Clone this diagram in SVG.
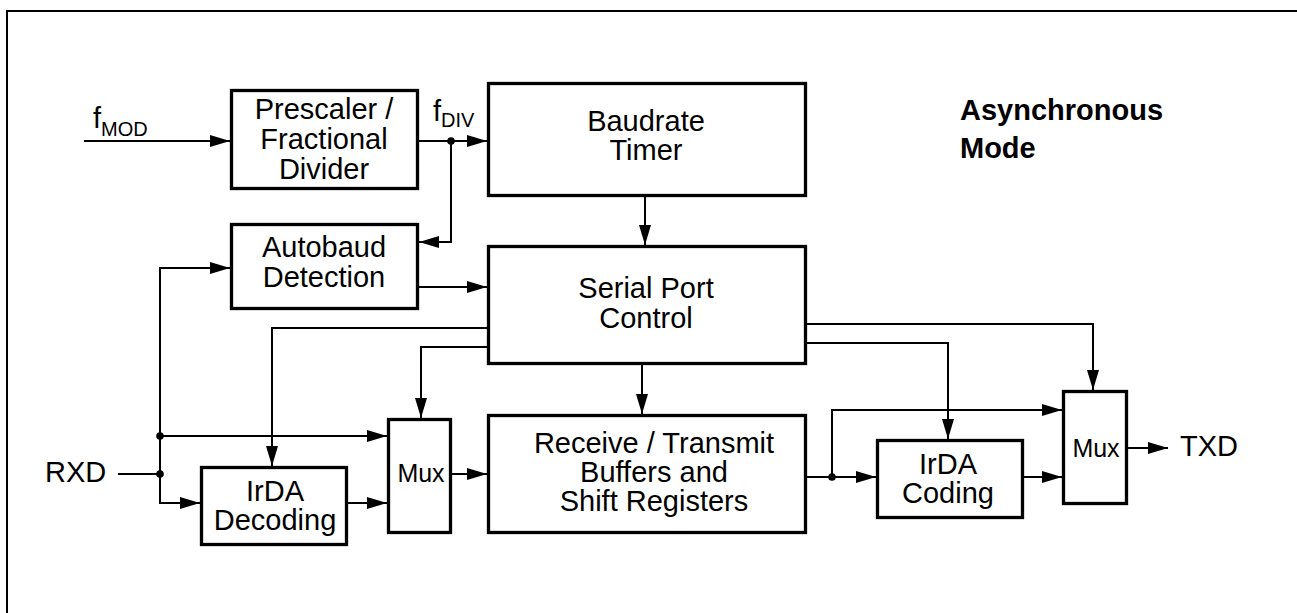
<svg xmlns="http://www.w3.org/2000/svg" width="1297" height="613" viewBox="0 0 1297 613">
<style>
.box{fill:#fff;stroke:#000;stroke-width:3.3}
.t{font-family:"Liberation Sans",Arial,sans-serif;font-size:29px;fill:#000;text-anchor:middle}
.s{font-family:"Liberation Sans",Arial,sans-serif;font-size:29px;fill:#000}
.m{font-family:"Liberation Sans",Arial,sans-serif;font-size:25px;fill:#000;text-anchor:middle}
.c{fill:none;stroke:#000;stroke-width:2}
.a{marker-end:url(#arr)}
</style>
<defs>
<marker id="arr" markerUnits="userSpaceOnUse" markerWidth="20" markerHeight="12" refX="20" refY="6" orient="auto">
<path d="M0,0 L20,6 L0,12 z" fill="#000"/>
</marker>
</defs>
<rect width="1297" height="613" fill="#fff"/>
<path d="M7,613 V11 H1297" fill="none" stroke="#000" stroke-width="2"/>

<g id="connectors">
<path class="c a" d="M84,141 H230"/>
<path class="c a" d="M419,141 H487"/>
<path class="c a" d="M451,141 V242 H419"/>
<path class="c a" d="M419,287 H487"/>
<path class="c a" d="M645,197 V245"/>
<path class="c" d="M118,474 H160"/>
<path class="c a" d="M160,436 V268 H230"/>
<path class="c a" d="M160,436 V503 H200"/>
<path class="c a" d="M160,436 H387"/>
<path class="c a" d="M348,503 H387"/>
<path class="c a" d="M487,328 H272 V466"/>
<path class="c a" d="M487,347 H421 V418"/>
<path class="c a" d="M452,474 H487"/>
<path class="c a" d="M642,365 V414"/>
<path class="c a" d="M807,324 H1093 V390"/>
<path class="c a" d="M807,343 H948 V439"/>
<path class="c a" d="M807,477 H876"/>
<path class="c a" d="M832,477 V410 H1062"/>
<path class="c a" d="M1024,477 H1062"/>
<path class="c a" d="M1128,448 H1168"/>
<circle cx="451" cy="141" r="3.8"/>
<circle cx="160" cy="436" r="3.8"/>
<circle cx="160" cy="474" r="3.8"/>
<circle cx="832" cy="477" r="3.8"/>
</g>

<g id="prescaler">
<rect class="box" x="231.5" y="90.5" width="186" height="98"/>
<text class="t" x="324" y="119">Prescaler /</text>
<text class="t" x="324" y="149">Fractional</text>
<text class="t" x="324" y="179">Divider</text>
</g>
<g id="autobaud">
<rect class="box" x="231.5" y="224.5" width="186" height="84"/>
<text class="t" x="324" y="257">Autobaud</text>
<text class="t" x="324" y="287">Detection</text>
</g>
<g id="baudrate">
<rect class="box" x="488.5" y="83.5" width="317" height="112"/>
<text class="t" x="646" y="131">Baudrate</text>
<text class="t" x="646" y="160">Timer</text>
</g>
<g id="serial">
<rect class="box" x="488.5" y="246.5" width="317" height="117"/>
<text class="t" x="646" y="298">Serial Port</text>
<text class="t" x="646" y="328">Control</text>
</g>
<g id="buffers">
<rect class="box" x="488.5" y="415.5" width="317" height="117"/>
<text class="t" x="654" y="453">Receive / Transmit</text>
<text class="t" x="654" y="482">Buffers and</text>
<text class="t" x="654" y="511">Shift Registers</text>
</g>
<g id="irdadec">
<rect class="box" x="201.5" y="467.5" width="145" height="77"/>
<text class="t" x="275" y="501">IrDA</text>
<text class="t" x="275" y="530">Decoding</text>
</g>
<g id="mux1">
<rect class="box" x="388.5" y="419.5" width="62" height="113"/>
<text class="m" x="421" y="482">Mux</text>
</g>
<g id="irdacod">
<rect class="box" x="877.5" y="440.5" width="145" height="77"/>
<text class="t" x="948" y="474">IrDA</text>
<text class="t" x="948" y="503">Coding</text>
</g>
<g id="mux2">
<rect class="box" x="1063.5" y="391.5" width="63" height="112"/>
<text class="m" x="1096" y="457">Mux</text>
</g>

<g id="labels">
<text class="s" x="93" y="128">f<tspan font-size="20" dy="8">MOD</tspan></text>
<text class="s" x="433" y="121">f<tspan font-size="20" dy="6">DIV</tspan></text>
<text class="s" x="45" y="482">RXD</text>
<text class="s" x="1180" y="456">TXD</text>
<text class="s" x="960" y="120" font-weight="bold">Asynchronous</text>
<text class="s" x="960" y="158" font-weight="bold">Mode</text>
</g>
</svg>
